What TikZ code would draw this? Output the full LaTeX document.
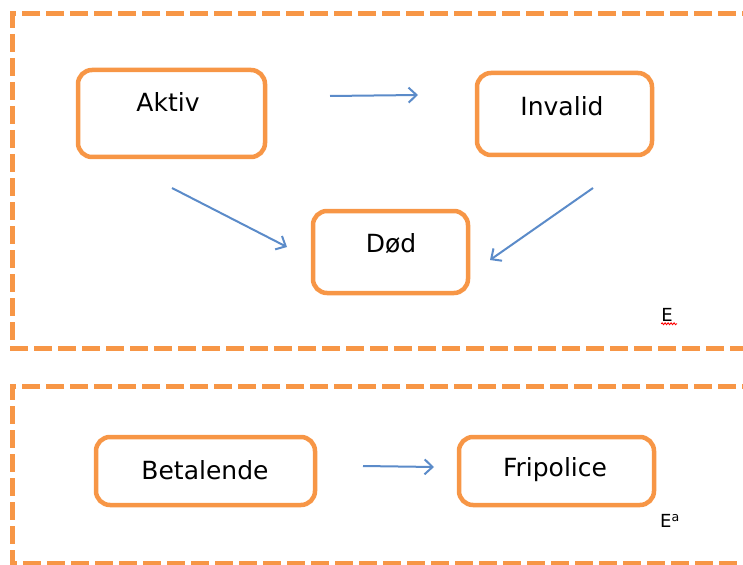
\documentclass[tikz,border=0pt]{standalone}
\usepackage{fontspec}
\setmainfont{DejaVu Sans}
\usetikzlibrary{arrows.meta,decorations.pathmorphing}
\definecolor{orangeline}{HTML}{F79646}
\definecolor{blueline}{HTML}{5B8BC9}
\begin{document}
\begin{tikzpicture}[x=1pt,y=-1pt,
  statebox/.style={draw=orangeline,line width=4.5pt,rounded corners=14pt,inner sep=0pt},
  frame/.style={draw=orangeline,line width=5pt,dash pattern=on 18pt off 6pt},
  flow/.style={draw=blueline,line width=2pt,-{Straight Barb[length=8pt,width=15pt,line width=2pt]}},
  lbl/.style={font=\fontsize{25}{29}\selectfont,inner sep=0pt},
  small/.style={font=\fontsize{18}{21}\selectfont,inner sep=0pt}]
\useasboundingbox (0,0) rectangle (743,564);
% frames
\draw[frame] (760,14) -- (12,14) -- (12,348) -- (760,348);
\draw[frame] (760,386) -- (12,386) -- (12,563) -- (760,563);
% state boxes
\node[statebox,minimum width=187pt,minimum height=87pt] (aktiv) at (171.5,113.5) {};
\node[lbl] (aktivT) at (168,102) {Aktiv};
\node[statebox,minimum width=175pt,minimum height=82pt] (invalid) at (564.5,114) {};
\node[lbl] (invalidT) at (562,106) {Invalid};
\node[statebox,minimum width=155pt,minimum height=82pt] (dod) at (390.5,252) {};
\node[lbl] (dodT) at (391,244) {Død};
\node[statebox,minimum width=219pt,minimum height=68pt] (betal) at (205.5,471) {};
\node[lbl] (betalT) at (205,470) {Betalende};
\node[statebox,minimum width=195pt,minimum height=68pt] (frip) at (556.5,471) {};
\node[lbl] (fripT) at (555,470) {Fripolice};
% labels
\node[small] (e1) at (667,315) {E};
\draw[red,line width=0.9pt,decorate,decoration={snake,amplitude=0.9pt,segment length=3pt}] ([yshift=-2pt]e1.south west) -- ++(16,0);
\node[small] (e2) at (670,521) {E\textsuperscript{a}};
% arrow end coordinates
\coordinate (a1s) at (330,96);
\coordinate (a1e) at (418,95);
\coordinate (a2s) at (172,188);
\coordinate (a2e) at (287,247);
\coordinate (a3s) at (593,188);
\coordinate (a3e) at (490,260);
\coordinate (a4s) at (363,466);
\coordinate (a4e) at (434,467);
\draw[flow] (a1s) -- (a1e);
\draw[flow] (a2s) -- (a2e);
\draw[flow] (a3s) -- (a3e);
\draw[flow] (a4s) -- (a4e);
\end{tikzpicture}
\end{document}
